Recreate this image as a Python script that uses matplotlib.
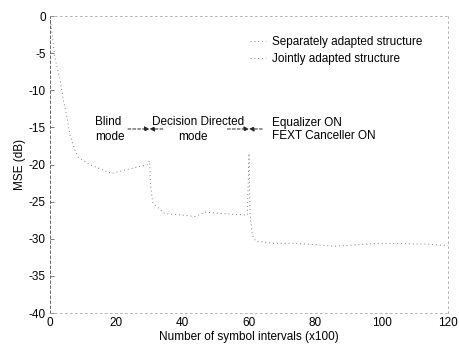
import matplotlib.pyplot as plt
from matplotlib.lines import Line2D

# MSE learning curve (x in units of 100 symbol intervals)
sym_x = [0, 1.5, 3, 4, 5, 6, 7.5, 8.5, 12, 18.6, 22, 29.5, 30, 30.3, 31, 34.6, 40,
         43.7, 46.7, 51.8, 59.5, 60, 60.3, 61, 62, 67, 74, 86, 99.5, 113, 120]
mse_db = [0, -5.7, -8.5, -11.3, -13.3, -16, -18, -19, -20, -21.2, -20.8, -20, -19.5,
          -22.8, -25.2, -26.6, -26.8, -27, -26.4, -26.6, -26.8, -18.5, -26.6, -29.5,
          -30.3, -30.6, -30.6, -31, -30.6, -30.7, -30.9]

mode_y = -15.2
mode_bounds = [30, 60]
legend_labels = ["Separately adapted structure", "Jointly adapted structure"]

plt.rcParams["font.family"] = ["Liberation Sans", "DejaVu Sans"]
plt.rcParams["font.size"] = 8.5
plt.rcParams["axes.unicode_minus"] = False

fig = plt.figure(figsize=(4.59, 3.44), dpi=100)
ax = fig.add_axes([0.109, 0.090, 0.867, 0.863])

ax.plot(sym_x, mse_db, color="0.5", lw=0.7, ls=(0, (1, 3)))

for b in mode_bounds:
    for start in (b - 6.5, b + 4):
        ax.annotate("", xy=(b, mode_y), xytext=(start, mode_y),
                    arrowprops=dict(arrowstyle="-|>", color="0.15", lw=0.7,
                                    ls=(0, (3, 2)), mutation_scale=7,
                                    shrinkA=0, shrinkB=0))

ax.text(13.5, -14.3, "Blind", ha="left", va="center")
ax.text(13.5, -16.3, "mode", ha="left", va="center")
ax.text(30.7, -14.3, "Decision Directed", ha="left", va="center")
ax.text(38.5, -16.3, "mode", ha="left", va="center")
ax.text(67, -14.4, "Equalizer ON", ha="left", va="center")
ax.text(67, -16.1, "FEXT Canceller ON", ha="left", va="center")

handles = [Line2D([], [], color="0.55", lw=0.7, ls=(0, (1, 3))),
           Line2D([], [], color="0.55", lw=0.7, ls=(0, (1, 3)))]
ax.legend(handles, legend_labels, frameon=False, loc="upper left",
          bbox_to_anchor=(0.49, 0.95), handlelength=1.4, handletextpad=0.5,
          labelspacing=0.45, borderaxespad=0)

ax.set_xlim(0, 120)
ax.set_ylim(-40, 0)
ax.set_xticks(range(0, 121, 20))
ax.set_yticks(range(-40, 1, 5))
ax.tick_params(direction="in", length=3, width=0.6, color="0.4", pad=3)
ax.tick_params(axis="x", length=0)
ax.set_xlabel("Number of symbol intervals (x100)", labelpad=1)
ax.set_ylabel("MSE (dB)", labelpad=2)

ax.spines["left"].set_linestyle((0, (3, 3)))
ax.spines["left"].set_color("0.3")
for side in ("top", "right", "bottom"):
    ax.spines[side].set_linestyle((0, (2, 4)))
    ax.spines[side].set_color("0.65")
for sp in ax.spines.values():
    sp.set_linewidth(0.6)

fig.savefig("out.png", dpi=100)
